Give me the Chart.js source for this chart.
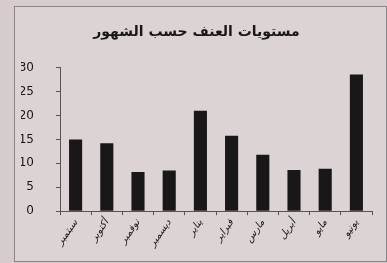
<!DOCTYPE html>
<html lang="ar">
<head>
  <meta charset="UTF-8">
  <title>مستويات العنف حسب الشهور</title>
  <script src="https://cdn.jsdelivr.net/npm/chart.js"></script>
  <style>
    html, body {
      margin: 0;
      padding: 0;
      background-color: #d6cccd;
    }
    #chart-container {
      position: absolute;
      left: 14px;
      top: 6px;
      width: 371px;
      height: 254px;
      border: 1px solid #8a8486;
      background-color: #dcd3d4;
    }
  </style>
</head>
<body>
  <div id="chart-container">
    <canvas id="myChart"></canvas>
  </div>

  <script>
    // months, september to june
    const months = ['سبتمبر', 'أكتوبر', 'نوفمبر', 'ديسمبر', 'يناير', 'فبراير', 'مارس', 'أبريل', 'مايو', 'يونيو'];
    // violence levels
    const levels = [15, 14.2, 8.2, 8.5, 21, 15.8, 11.8, 8.6, 8.9, 28.6];
    const yTicks = [0, 5, 10, 15, 20, 25, 30];

    const ink = '#1a1718';

    const ctx = document.getElementById('myChart').getContext('2d');
    const chart = new Chart(ctx, {
      type: 'bar',
      data: {
        labels: months,
        datasets: [
          {
            label: 'مستويات العنف',
            data: levels,
            backgroundColor: ink,
            borderWidth: 0,
            barPercentage: 0.42,
            categoryPercentage: 1.0
          }
        ]
      },
      options: {
        responsive: true,
        maintainAspectRatio: false,
        animation: false,
        layout: {
          padding: { left: 6, right: 14, top: 4, bottom: 10 }
        },
        plugins: {
          legend: { display: false },
          tooltip: { enabled: false },
          title: {
            display: true,
            text: 'مستويات العنف حسب الشهور',
            color: ink,
            font: { family: 'DejaVu Sans', size: 14, weight: 'bold' },
            padding: { top: 13, bottom: 27 }
          }
        },
        scales: {
          y: {
            min: 0,
            max: 30,
            afterBuildTicks: function(axis) {
              axis.ticks = yTicks.map(v => ({ value: v }));
            },
            // fit() counts tick padding twice, pin the gutter width instead
            afterFit: function(scale) {
              scale.width = 39;
            },
            ticks: {
              color: ink,
              font: { family: 'DejaVu Sans', size: 12 },
              padding: 22
            },
            grid: {
              display: true,
              drawOnChartArea: false,
              drawTicks: true,
              tickLength: 4,
              color: '#5a5355'
            },
            border: { display: true, color: '#5a5355', width: 1 }
          },
          x: {
            offset: true,
            ticks: {
              color: ink,
              font: { family: 'DejaVu Sans', size: 10, style: 'italic' },
              minRotation: 55,
              maxRotation: 55,
              padding: 2
            },
            grid: {
              display: true,
              offset: true,
              drawOnChartArea: false,
              drawTicks: true,
              tickLength: 4,
              color: '#5a5355'
            },
            border: { display: true, color: '#5a5355', width: 1 }
          }
        }
      }
    });
  </script>
</body>
</html>
